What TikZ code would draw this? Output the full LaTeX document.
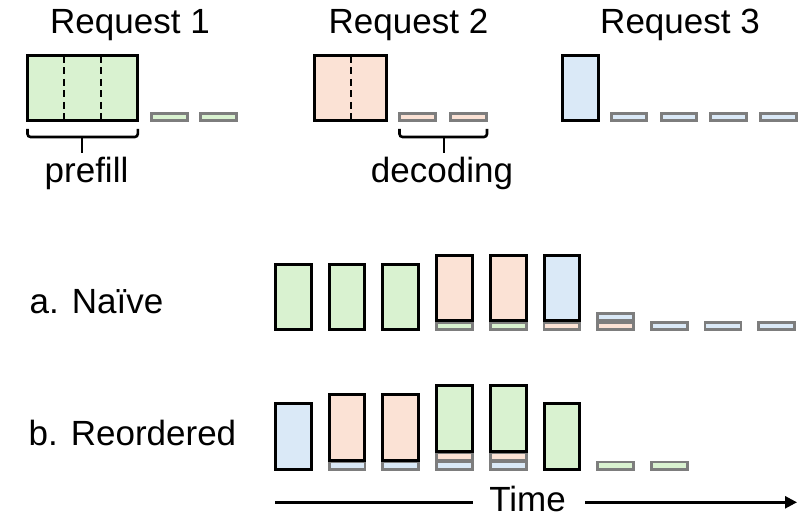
\documentclass[tikz,border=0pt]{standalone}
\usepackage{fontspec}
\setmainfont{Liberation Sans}
\usetikzlibrary{arrows.meta}
\definecolor{tgreen}{RGB}{217,242,208}
\definecolor{torange}{RGB}{251,226,213}
\definecolor{tblue}{RGB}{218,233,247}
\definecolor{tgray}{RGB}{125,125,125}
\tikzset{
  bigsty/.style={draw=black, line width=3pt},
  decsty/.style={draw=tgray, line width=2.8pt},
  lbl/.style={inner sep=0pt, font=\fontsize{35}{42}\selectfont},
  bracesty/.style={draw=black, line width=2.6pt, rounded corners=3pt},
  divsty/.style={draw=black, line width=2pt, dash pattern=on 7pt off 4.5pt},
  timesty/.style={draw=black, line width=2.5pt}
}
% x = left outer edge, #2 = bottom line, #3 = level / number of decodes below, #4 = colour
\newcommand{\dectok}[4]{\draw[decsty, fill=#4] (#1+1.4, #2-9*#3-1.4) rectangle (#1+37.3, #2-9*#3-8.6);}
\newcommand{\bigtokn}[4]{\draw[bigsty, fill=#4] (#1+1.5, #2-9*#3-1.5) rectangle (#1+37.2, #2-9*#3-67);}
\begin{document}
\begin{tikzpicture}[x=1pt,y=-1pt]
\useasboundingbox (0,0) rectangle (800,516);

% ---------- top row ----------
\node[lbl, anchor=base] (r1) at (130,33.3) {Request 1};
\node[lbl, anchor=base] (r2) at (408.5,33.3) {Request 2};
\node[lbl, anchor=base] (r3) at (680,33.3) {Request 3};

% request 1
\fill[tgreen] (27.5,55.5) rectangle (137.8,120.5);
\draw[divsty] (64,56) -- (64,120);
\draw[divsty] (101,56) -- (101,120);
\draw[bigsty] (27.5,55.5) rectangle (137.8,120.5);
\draw[decsty, fill=tgreen] (151.4,113.4) rectangle (187.6,120.6);
\draw[decsty, fill=tgreen] (200.4,113.4) rectangle (236.6,120.6);

% request 2
\fill[torange] (314.2,55.5) rectangle (386.5,120.5);
\draw[divsty] (350.7,56) -- (350.7,120);
\draw[bigsty] (314.2,55.5) rectangle (386.5,120.5);
\draw[decsty, fill=torange] (399.4,113.4) rectangle (435.6,120.6);
\draw[decsty, fill=torange] (450.4,113.4) rectangle (486.6,120.6);

% request 3
\draw[bigsty, fill=tblue] (562.5,55.5) rectangle (598.5,120.5);
\draw[decsty, fill=tblue] (611.4,113.4) rectangle (646.6,120.6);
\draw[decsty, fill=tblue] (661.4,113.4) rectangle (696.6,120.6);
\draw[decsty, fill=tblue] (710.4,113.4) rectangle (746.6,120.6);
\draw[decsty, fill=tblue] (760.4,113.4) rectangle (796.6,120.6);

% braces
\draw[bracesty] (27.5,129) -- (27.5,137) -- (137.8,137) -- (137.8,129);
\draw[bracesty] (82,137) -- (82,152.5);
\draw[bracesty] (399.5,129) -- (399.5,137) -- (487,137) -- (487,129);
\draw[bracesty] (444,137) -- (444,152.5);
\node[lbl, anchor=base] (pf) at (86.5,182) {prefill};
\node[lbl, anchor=base] (dc) at (442,182) {decoding};

% ---------- a. Naive ----------
\node[lbl, anchor=base west] (na) at (29.5,313.3) {a. Naïve};
\bigtokn{274}{331}{0}{tgreen}
\bigtokn{327.7}{331}{0}{tgreen}
\bigtokn{381.4}{331}{0}{tgreen}
\dectok{435.1}{331}{0}{tgreen}
\bigtokn{435.1}{331}{1}{torange}
\dectok{488.8}{331}{0}{tgreen}
\bigtokn{488.8}{331}{1}{torange}
\dectok{542.5}{331}{0}{torange}
\bigtokn{542.5}{331}{1}{tblue}
\dectok{596.2}{331}{0}{torange}
\dectok{596.2}{331}{1}{tblue}
\dectok{649.9}{331}{0}{tblue}
\dectok{703.6}{331}{0}{tblue}
\dectok{757.3}{331}{0}{tblue}

% ---------- b. Reordered ----------
\node[lbl, anchor=base west] (ro) at (28.5,445) {b. Reordered};
\bigtokn{274}{470.5}{0}{tblue}
\dectok{327.7}{470.5}{0}{tblue}
\bigtokn{327.7}{470.5}{1}{torange}
\dectok{381.4}{470.5}{0}{tblue}
\bigtokn{381.4}{470.5}{1}{torange}
\dectok{435.1}{470.5}{0}{tblue}
\dectok{435.1}{470.5}{1}{torange}
\bigtokn{435.1}{470.5}{2}{tgreen}
\dectok{488.8}{470.5}{0}{tblue}
\dectok{488.8}{470.5}{1}{torange}
\bigtokn{488.8}{470.5}{2}{tgreen}
\bigtokn{542.5}{470.5}{0}{tgreen}
\dectok{596.2}{470.5}{0}{tgreen}
\dectok{649.9}{470.5}{0}{tgreen}

% ---------- time axis ----------
\node[lbl, anchor=base] (time) at (527.5,511.5) {Time};
\coordinate (ta) at (275,502.3);
\coordinate (tb) at (473.3,502.3);
\coordinate (tc) at (585,502.3);
\coordinate (td) at (797,502.3);
\draw[timesty] (ta) -- (tb);
\draw[timesty, -{Triangle[length=12pt,width=12pt]}] (tc) -- (td);
\end{tikzpicture}
\end{document}
